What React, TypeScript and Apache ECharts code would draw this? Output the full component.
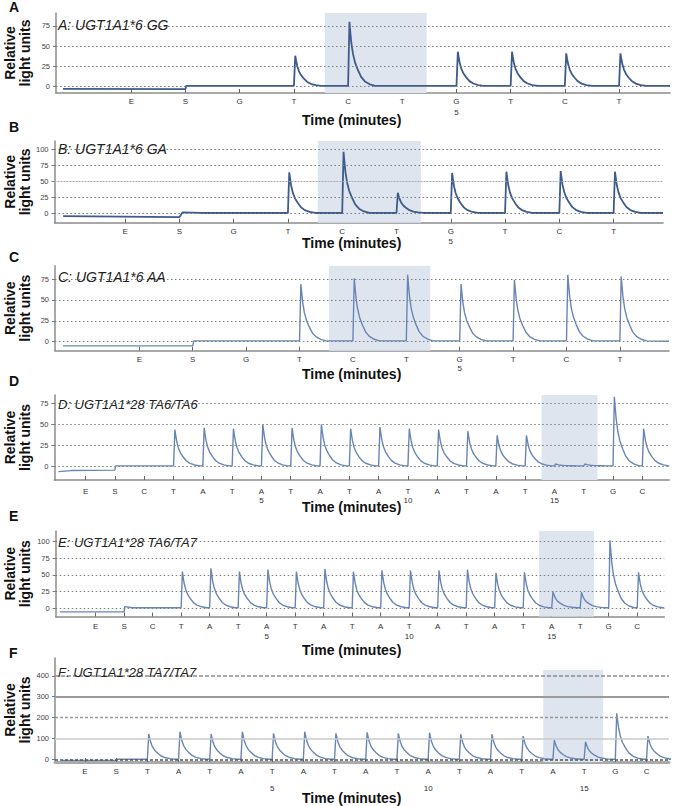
import React, { useEffect, useRef } from "react";
import * as echarts from "echarts";

const FONT = "'Liberation Sans', Arial, Helvetica, sans-serif";

// Dispensation orders (x tick labels)
const DISP_UGT6 = ["E", "S", "G", "T", "C", "T", "G", "T", "C", "T"];
const DISP_TA6 = ["E", "S", "C", "T", "A", "T", "A", "T", "A", "T", "A", "T", "A", "T", "A", "T", "A", "T", "G", "C"];
const DISP_TA7 = ["E", "S", "T", "A", "T", "A", "T", "A", "T", "A", "T", "A", "T", "A", "T", "A", "T", "G", "C"];

// Nucleotide position numbers: [dispensation index, label]
const POS_UGT6: [number, string][] = [[6, "5"]];
const POS_TA: [number, string][] = [[6, "5"], [11, "10"], [16, "15"]];

// Y tick labels
const Y_TICKS_75 = [0, 25, 50, 75];
const Y_TICKS_100 = [0, 25, 50, 75, 100];
const Y_TICKS_400 = [0, 100, 200, 300, 400];

// Peak heights (relative light units), from dispensation index 2 onward
const PEAKS_A = [0, 38, 80, 0, 43, 43, 41, 41];
const PEAKS_B = [0, 64, 96, 32, 63, 65, 66, 65];
const PEAKS_C = [0, 69, 76, 80, 69, 74, 80, 78];
const PEAKS_D = [0, 44, 46, 45, 50, 46, 50, 45, 47, 45, 44, 42, 37, 37, 3, 3, 83, 45];
const PEAKS_E = [0, 55, 60, 55, 58, 55, 59, 55, 57, 57, 57, 58, 53, 54, 25, 24, 102, 54];
const PEAKS_F = [121, 132, 121, 132, 124, 132, 124, 129, 124, 127, 120, 120, 111, 92, 84, 220, 111];

// Baseline points [dispensation position, value]
const BASE_A = [[-1.26, -3], [1, -3.3], [1.01, 0.6], [9.94, 0.6]];
const BASE_B = [[-1.14, -4.5], [1, -6], [1.06, 1.5], [1.4, 0.5], [9.91, 0.5]];
const BASE_C = [[-1.43, -5], [1, -5], [1.02, 1], [9.92, 0.5]];
const BASE_D = [[-0.93, -6], [-0.5, -4.8], [1, -4.3], [1.02, 0.8], [19.92, 0.3]];
const BASE_E = [[-1.25, -5.5], [1, -5.5], [1.02, 2.5], [1.3, 0.8], [19.95, 0.3]];
const BASE_F = [[-0.74, -5], [1, -5], [1.02, 0], [18.72, 0]];

// Peak shape: offset after dispensation, fraction of peak height
const PEAK_DX = [0, 0.025, 0.04, 0.06, 0.09, 0.13, 0.18, 0.24, 0.31, 0.4, 0.5];
const PEAK_SHAPE = [0, 1, 0.85, 0.67, 0.5, 0.36, 0.25, 0.14, 0.07, 0.025, 0];

// Shaded regions (dispensation positions)
const SHADE_A = [3.57, 5.45];
const SHADE_B = [3.55, 5.45];
const SHADE_C = [3.55, 5.45];
const SHADE_D = [15.56, 17.47];
const SHADE_E = [15.56, 17.48];
const SHADE_F = [14.69, 16.61];

const TITLES = [
  "A: UGT1A1*6 GG",
  "B: UGT1A1*6 GA",
  "C: UGT1A1*6 AA",
  "D: UGT1A1*28 TA6/TA6",
  "E: UGT1A1*28 TA6/TA7",
  "F: UGT1A1*28 TA7/TA7",
];
const LETTERS = ["A", "B", "C", "D", "E", "F"];

const DARK = "#3d5b8c";
const LIGHT = "#6886b5";
const DOT = { color: "#7d7d7d", type: [1.5, 2.5], width: 1.2 };

const PANELS = [
  {
    disp: DISP_UGT6, pos: POS_UGT6, peaks: PEAKS_A, base: BASE_A, yTicks: Y_TICKS_75, shade: SHADE_A, w: 1,
    grid: { left: 56, top: 13, width: 614, height: 80 }, xMin: -1.39, xMax: 9.94, yMin: -8.2, yMax: 91,
    lm: 3, lh: 11, color: DARK, lw: 1.8, letterY: 7, titleY: 25, titleSize: 14, timeY: 120,
  },
  {
    disp: DISP_UGT6, pos: POS_UGT6, peaks: PEAKS_B, base: BASE_B, yTicks: Y_TICKS_100, shade: SHADE_B, w: 1,
    grid: { left: 54.5, top: 141, width: 608.5, height: 81.7 }, xMin: -1.3, xMax: 9.91, yMin: -14.7, yMax: 113,
    lm: 4, lh: 10, color: DARK, lw: 1.8, letterY: 127, titleY: 149, titleSize: 14, timeY: 243,
  },
  {
    disp: DISP_UGT6, pos: POS_UGT6, peaks: PEAKS_C, base: BASE_C, yTicks: Y_TICKS_75, shade: SHADE_C, w: 1,
    grid: { left: 55, top: 265.7, width: 614, height: 85 }, xMin: -1.58, xMax: 9.92, yMin: -10.8, yMax: 91,
    lm: 5, lh: 8.5, color: LIGHT, lw: 1.4, letterY: 257, titleY: 277, titleSize: 14, timeY: 374,
  },
  {
    disp: DISP_TA6, pos: POS_TA, peaks: PEAKS_D, base: BASE_D, yTicks: Y_TICKS_75, shade: SHADE_D, w: 1.8,
    grid: { left: 54.3, top: 395, width: 615, height: 85 }, xMin: -1.07, xMax: 19.92, yMin: -16, yMax: 85,
    lm: 6.5, lh: 9, color: LIGHT, lw: 1.4, letterY: 381, titleY: 404, titleSize: 13, timeY: 507,
  },
  {
    disp: DISP_TA6, pos: POS_TA, peaks: PEAKS_E, base: BASE_E, yTicks: Y_TICKS_100, shade: SHADE_E, w: 1.8,
    grid: { left: 55.7, top: 531, width: 608.6, height: 85.5 }, xMin: -1.4, xMax: 19.95, yMin: -12.4, yMax: 116,
    lm: 4.5, lh: 10, color: LIGHT, lw: 1.4, letterY: 516, titleY: 542, titleSize: 13, timeY: 650,
  },
  {
    disp: DISP_TA7, pos: POS_TA, peaks: PEAKS_F, base: BASE_F, yTicks: Y_TICKS_400, shade: SHADE_F, w: 1.8,
    grid: { left: 55, top: 658, width: 614, height: 104 }, xMin: -0.96, xMax: 18.72, yMin: -13, yMax: 485,
    lm: 0.5, lh: 17, color: LIGHT, lw: 1.4, letterY: 653, titleY: 672, titleSize: 13, timeY: 798,
    shadeTop: 427,
  },
];

function gridStyle(panel: number, t: number) {
  if (panel === 1 && t === 50) return { color: "#a8a8a8", type: [2, 1], width: 1 };
  if (panel === 5) {
    if (t === 0) return { color: "#555", type: [3, 2], width: 1.5 };
    if (t === 100) return { color: "#c8c8c8", type: "solid", width: 1.5 };
    if (t === 200) return { color: "#999", type: [3, 2], width: 1.3 };
    if (t === 300) return { color: "#9a9a9a", type: "solid", width: 2 };
    return { color: "#8a8a8a", type: [4, 2], width: 1.5 };
  }
  return DOT;
}

function buildTrace(base: number[][], peaks: number[], w: number) {
  const pts: number[][] = [];
  const last = base[base.length - 1];
  const b1 = base[base.length - 2][1];
  for (let k = 0; k < base.length - 1; k++) pts.push(base[k]);
  peaks.forEach((h, j) => {
    if (h <= 0) return;
    const i = j + 2;
    PEAK_DX.forEach((dx, k) => pts.push([i + dx * w, b1 + (h - b1) * PEAK_SHAPE[k]]));
  });
  pts.push(last);
  return pts;
}

export default function App() {
  const ref = useRef<HTMLDivElement>(null);
  useEffect(() => {
    if (!ref.current) return;
    const chart = echarts.init(ref.current, null, { renderer: "svg" });
    const grids: any[] = [];
    const xAxes: any[] = [];
    const yAxes: any[] = [];
    const series: any[] = [];
    const graphics: any[] = [];

    PANELS.forEach((p, i) => {
      grids.push({ ...p.grid, containLabel: false });
      const idx = p.disp.map((_, k) => k);
      xAxes.push({
        type: "value",
        gridIndex: i,
        min: p.xMin,
        max: p.xMax,
        axisLine: { show: true, onZero: false, lineStyle: { color: i === 5 ? "#aaa" : "#8c8c8c", width: i === 5 ? 3 : 1.6 } },
        axisTick: { show: true, inside: true, length: 4, customValues: idx, lineStyle: { color: "#666", width: 1 } },
        axisLabel: {
          show: true,
          customValues: idx,
          fontSize: 8,
          color: "#333",
          fontFamily: FONT,
          margin: p.lm,
          lineHeight: p.lh,
          formatter: (v: number) => {
            const k = Math.round(v);
            const num = p.pos.find((q) => q[0] === k);
            return num ? `${p.disp[k]}\n${num[1]}` : p.disp[k];
          },
        },
        splitLine: { show: false },
      });
      yAxes.push({
        type: "value",
        gridIndex: i,
        min: p.yMin,
        max: p.yMax,
        axisLine: { show: true, onZero: false, lineStyle: { color: "#8c8c8c", width: 1.5 } },
        axisTick: { show: true, length: 3, customValues: p.yTicks, lineStyle: { color: "#777" } },
        axisLabel: { show: true, customValues: p.yTicks, fontSize: 7.5, color: "#444", fontFamily: FONT, margin: 6 },
        splitLine: { show: false },
      });
      series.push({
        type: "line",
        xAxisIndex: i,
        yAxisIndex: i,
        data: buildTrace(p.base, p.peaks, p.w),
        showSymbol: false,
        symbol: "none",
        lineStyle: { color: p.color, width: p.lw },
        silent: true,
        z: 3,
        markLine: {
          silent: true,
          symbol: "none",
          label: { show: false },
          data: p.yTicks.map((t) => ({ yAxis: t, lineStyle: gridStyle(i, t) })),
        },
        markArea: {
          silent: true,
          itemStyle: { color: "#dfe5ee" },
          data: [[{ xAxis: p.shade[0], yAxis: p.yMin }, { xAxis: p.shade[1], yAxis: (p as any).shadeTop ?? p.yMax }]],
        },
      });
      graphics.push({
        type: "text",
        x: 9,
        y: p.letterY,
        style: { text: LETTERS[i], font: `bold 14px ${FONT}`, fill: "#111", textAlign: "left", textVerticalAlign: "middle" },
      });
      graphics.push({
        type: "text",
        x: 58,
        y: p.titleY,
        z: 10,
        style: { text: TITLES[i], font: `italic ${p.titleSize}px ${FONT}`, fill: "#222", textAlign: "left", textVerticalAlign: "middle" },
      });
      graphics.push({
        type: "text",
        x: 17.5,
        y: p.grid.top + p.grid.height / 2,
        rotation: Math.PI / 2,
        style: {
          text: "Relative\nlight units",
          font: `bold 14px ${FONT}`,
          lineHeight: 15,
          fill: "#111",
          textAlign: "center",
          textVerticalAlign: "middle",
        },
      });
      graphics.push({
        type: "text",
        x: 302,
        y: p.timeY,
        style: { text: "Time (minutes)", font: `bold 14px ${FONT}`, fill: "#111", textAlign: "left", textVerticalAlign: "middle" },
      });
    });

    chart.setOption({
      animation: false,
      backgroundColor: "#ffffff",
      grid: grids,
      xAxis: xAxes,
      yAxis: yAxes,
      series,
      graphic: { elements: graphics },
    });
    return () => chart.dispose();
  }, []);
  return <div ref={ref} style={{ position: "absolute", left: 0, top: 0, width: 677, height: 806 }} />;
}
